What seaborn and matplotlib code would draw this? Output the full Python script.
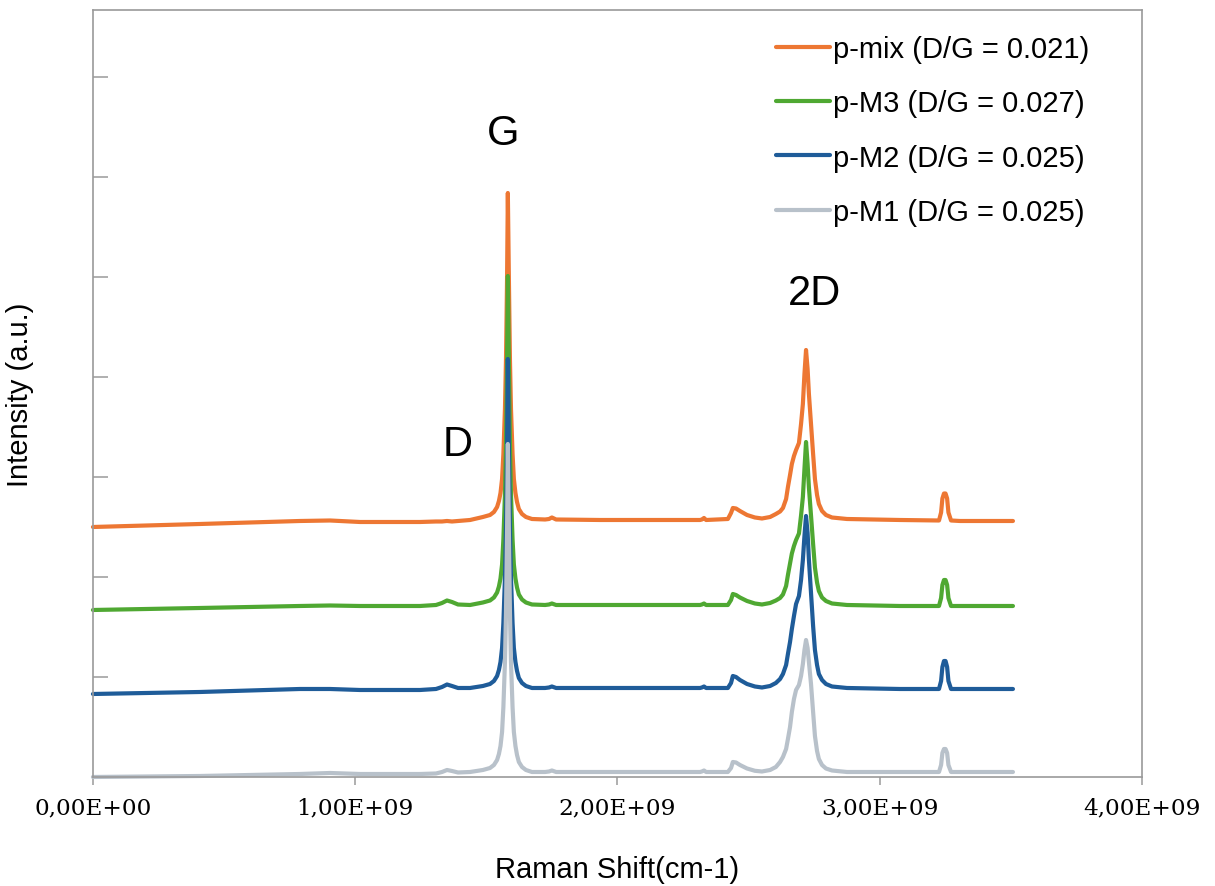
import numpy as np
import pandas as pd
import matplotlib
matplotlib.use("Agg")
import matplotlib.pyplot as plt
from matplotlib.ticker import FuncFormatter, FixedLocator
import seaborn as sns

# Raman shift sample positions (x 1e9, shared by all spectra)
shift = [0.000, 0.408, 0.789, 0.904, 1.018, 1.247, 1.308, 1.331, 1.350, 1.369,
         1.392, 1.438,
         1.487, 1.514, 1.529, 1.541, 1.548, 1.554, 1.560, 1.565, 1.571, 1.575,
         1.579, 1.582, 1.586, 1.590, 1.594, 1.600, 1.605, 1.611, 1.617, 1.624,
         1.636, 1.651, 1.674,
         1.724, 1.739, 1.750, 1.766, 1.933, 2.315, 2.322, 2.330, 2.338, 2.421,
         2.433, 2.440, 2.452, 2.467, 2.494, 2.524, 2.551, 2.582, 2.604, 2.620,
         2.631, 2.643, 2.650, 2.658, 2.665, 2.673, 2.681, 2.692, 2.700, 2.707,
         2.713, 2.719, 2.725, 2.730, 2.738, 2.746, 2.753, 2.761, 2.768, 2.780,
         2.795, 2.818, 2.875,
         3.077, 3.226, 3.234, 3.239, 3.245, 3.251, 3.257, 3.262, 3.272, 3.306,
         3.508]

# Stacked intensities (a.u.)
p_mix = [2.50, 2.53, 2.56, 2.565, 2.55, 2.55, 2.555, 2.555, 2.56, 2.555,
         2.56, 2.57,
         2.60, 2.62, 2.65, 2.70, 2.76, 2.84, 2.98, 3.23, 3.68, 4.18,
         4.98, 5.84, 4.98, 4.18, 3.68, 3.23, 2.98, 2.84, 2.75, 2.68,
         2.63, 2.60, 2.58,
         2.575, 2.58, 2.595, 2.575, 2.57, 2.57, 2.575, 2.59, 2.57, 2.58,
         2.64, 2.69, 2.685, 2.66, 2.62, 2.595, 2.585, 2.60, 2.63, 2.655,
         2.69, 2.78, 2.90, 3.02, 3.13, 3.21, 3.27, 3.34, 3.53, 3.73,
         4.03, 4.27, 4.08, 3.83, 3.53, 3.23, 2.98, 2.82, 2.73, 2.66,
         2.62, 2.595, 2.58,
         2.57, 2.565, 2.645, 2.785, 2.835, 2.835, 2.785, 2.645, 2.565, 2.56,
         2.56]

p_m3 = [1.67, 1.69, 1.71, 1.715, 1.71, 1.71, 1.72, 1.74, 1.765, 1.75,
        1.725, 1.72,
        1.745, 1.765, 1.795, 1.845, 1.905, 1.985, 2.125, 2.375, 2.825, 3.325,
        4.125, 5.01, 4.125, 3.325, 2.825, 2.375, 2.125, 1.985, 1.895, 1.825,
        1.775, 1.745, 1.725,
        1.72, 1.725, 1.735, 1.72, 1.72, 1.72, 1.725, 1.735, 1.72, 1.72,
        1.77, 1.83, 1.82, 1.795, 1.76, 1.735, 1.725, 1.74, 1.765, 1.79,
        1.825, 1.91, 2.02, 2.135, 2.235, 2.31, 2.37, 2.435, 2.615, 2.80,
        3.08, 3.35, 3.13, 2.895, 2.615, 2.33, 2.095, 1.945, 1.86, 1.795,
        1.76, 1.735, 1.72,
        1.71, 1.71, 1.79, 1.92, 1.97, 1.97, 1.92, 1.79, 1.71, 1.71,
        1.71]

p_m2 = [0.83, 0.85, 0.88, 0.88, 0.87, 0.87, 0.88, 0.90, 0.925, 0.91,
        0.89, 0.89,
        0.91, 0.93, 0.96, 1.01, 1.07, 1.15, 1.29, 1.54, 1.99, 2.49,
        3.29, 4.18, 3.29, 2.49, 1.99, 1.54, 1.29, 1.15, 1.06, 0.99,
        0.94, 0.91, 0.89,
        0.89, 0.895, 0.905, 0.89, 0.89, 0.89, 0.895, 0.905, 0.89, 0.89,
        0.94, 1.01, 1.00, 0.97, 0.93, 0.905, 0.895, 0.91, 0.94, 0.98,
        1.03, 1.12, 1.23, 1.35, 1.48, 1.61, 1.73, 1.81, 1.97, 2.17,
        2.41, 2.61, 2.44, 2.17, 1.84, 1.51, 1.27, 1.12, 1.03, 0.97,
        0.93, 0.905, 0.89,
        0.88, 0.88, 0.96, 1.10, 1.16, 1.16, 1.10, 0.96, 0.88, 0.88,
        0.88]

p_m1 = [0.00, 0.01, 0.03, 0.04, 0.03, 0.03, 0.035, 0.05, 0.07, 0.06,
        0.045, 0.05,
        0.07, 0.09, 0.12, 0.17, 0.23, 0.31, 0.45, 0.70, 1.15, 1.65,
        2.45, 3.33, 2.45, 1.65, 1.15, 0.70, 0.45, 0.31, 0.22, 0.15,
        0.10, 0.07, 0.05,
        0.05, 0.055, 0.065, 0.05, 0.05, 0.05, 0.055, 0.065, 0.05, 0.05,
        0.09, 0.15, 0.145, 0.12, 0.085, 0.062, 0.055, 0.07, 0.10, 0.15,
        0.20, 0.28, 0.38, 0.50, 0.65, 0.78, 0.87, 0.92, 1.01, 1.13,
        1.27, 1.37, 1.29, 1.15, 0.93, 0.65, 0.41, 0.26, 0.18, 0.12,
        0.085, 0.065, 0.05,
        0.05, 0.05, 0.12, 0.24, 0.28, 0.28, 0.24, 0.12, 0.05, 0.05,
        0.05]

series_names = ["p-mix (D/G = 0.021)", "p-M3 (D/G = 0.027)",
                "p-M2 (D/G = 0.025)", "p-M1 (D/G = 0.025)"]
series_values = [p_mix, p_m3, p_m2, p_m1]
series_colors = ["#ED7733", "#4FA832", "#1F5C99", "#B8C1CA"]

peak_labels = ["G", "D", "2D"]
peak_label_pos = [(1.563e9, 6.44), (1.392e9, 3.33), (2.753e9, 4.84)]

x_ticks = [0, 1e9, 2e9, 3e9, 4e9]

frames = []
for name, vals in zip(series_names, series_values):
    frames.append(pd.DataFrame({"shift": np.array(shift) * 1e9,
                                "intensity": vals,
                                "sample": name}))
df = pd.concat(frames, ignore_index=True)

sns.set_theme(style="white")
plt.rcParams["font.family"] = ["Liberation Sans", "DejaVu Sans"]
plt.rcParams["text.color"] = "black"

fig = plt.figure(figsize=(12.15, 8.87), dpi=100)
ax = fig.add_axes([0.0765, 0.1229, 0.8634, 0.8647])

sns.lineplot(data=df, x="shift", y="intensity", hue="sample",
             hue_order=series_names, palette=series_colors,
             sort=False, estimator=None, linewidth=3.0, ax=ax)
for line in ax.lines:
    line.set_solid_capstyle("round")
    line.set_solid_joinstyle("round")
    line.set_clip_on(False)

ax.set_xlim(0, 4e9)
ax.set_ylim(0, 7.67)
ax.xaxis.set_major_locator(FixedLocator(x_ticks))
ax.xaxis.set_major_formatter(
    FuncFormatter(lambda v, pos: f"{v:.2E}".replace(".", ",")))
ax.yaxis.set_major_locator(FixedLocator(list(range(0, 8))))
ax.set_yticklabels([])

for lbl in ax.get_xticklabels():
    lbl.set_family("DejaVu Serif")
    lbl.set_fontsize(16.7)
ax.tick_params(axis="x", direction="out", length=6, width=1.1,
               color="#9a9a9a", pad=8, labelcolor="black", bottom=True)
ax.tick_params(axis="y", direction="in", length=11, width=1.1,
               color="#9a9a9a", left=True)

for sp in ax.spines.values():
    sp.set_color("#9a9a9a")
    sp.set_linewidth(1.2)

ax.set_xlabel("Raman Shift(cm-1)", fontsize=21, color="black", va="center")
ax.set_ylabel("Intensity (a.u.)", fontsize=21, color="black", va="center")
ax.xaxis.set_label_coords(0.5, -0.12)
ax.yaxis.set_label_coords(-0.0696, 0.5)

for text, (tx, ty) in zip(peak_labels, peak_label_pos):
    ax.text(tx, ty, text, fontsize=30, ha="center", va="center",
            color="black")

handles, labels = ax.get_legend_handles_labels()
leg = ax.legend(handles, labels, loc="upper right",
                bbox_to_anchor=(0.966, 0.99), frameon=False, fontsize=21,
                handlelength=1.85, handletextpad=0.08, labelspacing=0.9,
                borderaxespad=0.2)
for h in leg.get_lines():
    h.set_linewidth(3.0)
for t in leg.get_texts():
    t.set_color("black")

fig.savefig("out.png", dpi=100)
